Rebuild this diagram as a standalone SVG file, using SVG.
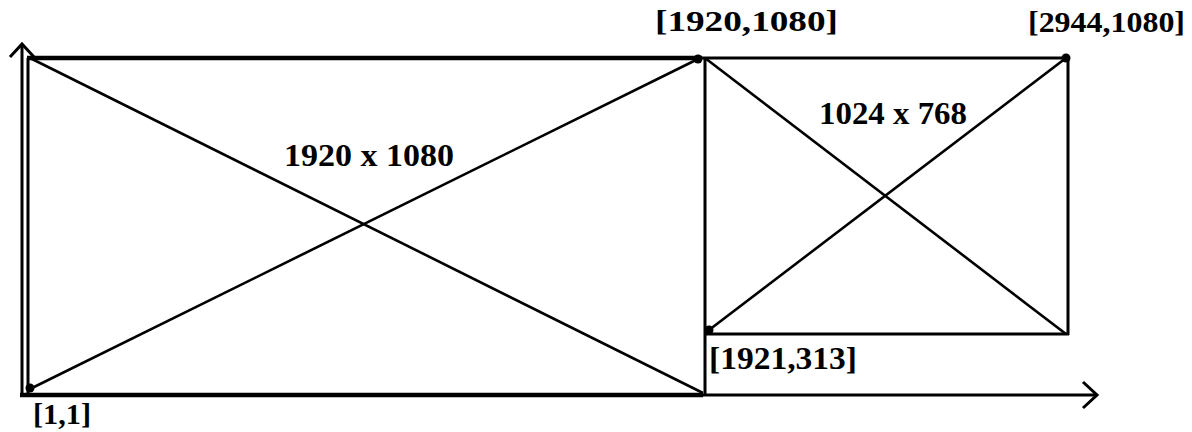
<svg xmlns="http://www.w3.org/2000/svg" width="1192" height="432" viewBox="0 0 1192 432">
<style>
.thick{stroke:#000;stroke-width:4.5;fill:none}
.med{stroke:#000;stroke-width:3;fill:none}
.thin{stroke:#000;stroke-width:2.6;fill:none}
.lbl{font-weight:700;fill:#000}
.dot{fill:#000}
</style>
<rect width="1192" height="432" fill="#fff"/>
<g id="axes">
<line class="med" x1="22" y1="395" x2="22" y2="45"/>
<polyline class="med" points="10,57 22,44 34,57"/>
<line class="med" x1="700" y1="395" x2="1097" y2="395"/>
<polyline class="med" points="1083,382 1097,395 1083,408"/>
</g>
<g id="rect1920">
<line class="thick" x1="27" y1="58" x2="702" y2="58"/>
<line class="thick" x1="20" y1="395" x2="703" y2="395"/>
<line class="med" x1="28" y1="58" x2="28" y2="395"/>
<line class="thin" x1="30" y1="389" x2="698" y2="59"/>
<line class="thin" x1="30" y1="58" x2="703" y2="393"/>
<circle class="dot" cx="30" cy="388" r="4.5"/>
<circle class="dot" cx="698" cy="59" r="4.5"/>
</g>
<g id="rect1024">
<line class="med" x1="702" y1="58" x2="1068" y2="58"/>
<line class="med" x1="705" y1="58" x2="705" y2="395"/>
<line class="med" x1="1068" y1="58" x2="1068" y2="335"/>
<line class="med" x1="705" y1="334" x2="1069" y2="334"/>
<line class="thin" x1="709" y1="330" x2="1066" y2="58"/>
<line class="thin" x1="705" y1="58" x2="1066" y2="334"/>
<circle class="dot" cx="1066" cy="58" r="4.5"/>
<circle class="dot" cx="709" cy="330" r="4.5"/>
</g>
<g id="labels" font-family="Liberation Serif, serif">
<text class="lbl" x="655" y="31" font-size="30" textLength="183" lengthAdjust="spacingAndGlyphs">[1920,1080]</text>
<text class="lbl" x="1028" y="32" font-size="30" textLength="157" lengthAdjust="spacingAndGlyphs">[2944,1080]</text>
<text class="lbl" x="284" y="166" font-size="32" textLength="170" lengthAdjust="spacingAndGlyphs">1920 x 1080</text>
<text class="lbl" x="819" y="124" font-size="32" textLength="148" lengthAdjust="spacingAndGlyphs">1024 x 768</text>
<text class="lbl" x="709" y="369" font-size="31" textLength="148" lengthAdjust="spacingAndGlyphs">[1921,313]</text>
<text class="lbl" x="33" y="424" font-size="29" textLength="58" lengthAdjust="spacingAndGlyphs">[1,1]</text>
</g>
</svg>
